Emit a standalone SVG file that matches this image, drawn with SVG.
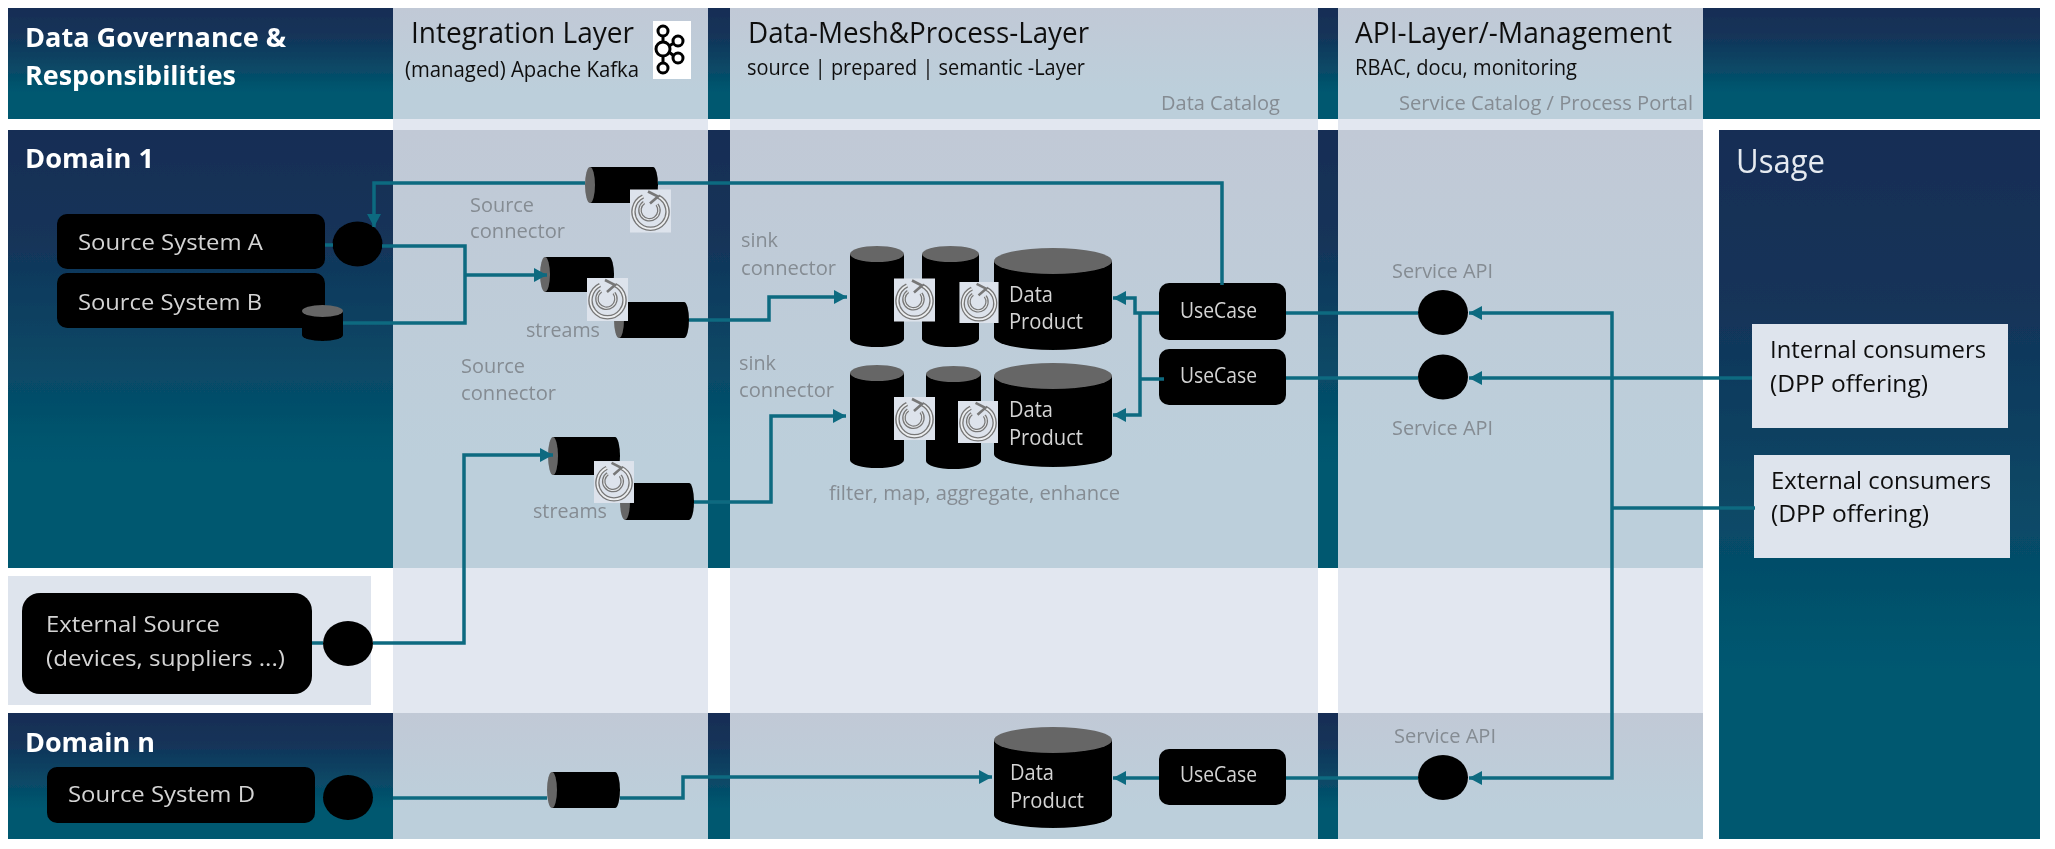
<svg xmlns="http://www.w3.org/2000/svg" width="2055" height="849" viewBox="0 0 2055 849">
<defs>
<linearGradient id="dark" x1="0" y1="0" x2="0" y2="1"><stop offset="0" stop-color="#122d55"/><stop offset="0.25" stop-color="#133459"/><stop offset="0.76" stop-color="#005870"/><stop offset="1" stop-color="#005870"/></linearGradient>
<linearGradient id="light" x1="0" y1="0" x2="0" y2="1"><stop offset="0" stop-color="#c1c9d6"/><stop offset="0.76" stop-color="#bccfdb"/><stop offset="1" stop-color="#bccfdb"/></linearGradient>
<filter id="soft" filterUnits="userSpaceOnUse" x="0" y="0" width="2055" height="849"><feGaussianBlur stdDeviation="0.6"/></filter>
<marker id="arrow" markerUnits="userSpaceOnUse" markerWidth="13" markerHeight="14" refX="13" refY="7" orient="auto"><path d="M0,0 L13,7 L0,14 Z" fill="#0c6a80"/></marker>
<symbol id="spin" viewBox="0 0 41 43">
<rect width="41" height="43" fill="#dde3ec"/>
<path d="M28,7 A17,17 0 1 1 13,7" fill="none" stroke="#777" stroke-width="4.5"/>
<path d="M28,7 A17,17 0 1 1 13,7" fill="none" stroke="#eceef0" stroke-width="1.8"/>
<path d="M27,15 A9.5,9.5 0 1 1 14,13" fill="none" stroke="#777" stroke-width="3.6"/>
<path d="M27,15 A9.5,9.5 0 1 1 14,13" fill="none" stroke="#e6e9ec" stroke-width="1.1"/>
<path d="M18,2 L28,7 L20,14" fill="none" stroke="#777" stroke-width="2.6"/>
</symbol>
<symbol id="kafka" viewBox="0 0 38 58">
<rect width="38" height="58" fill="#fff"/>
<g fill="none" stroke="#000" stroke-width="3">
<circle cx="10" cy="10" r="5"/><circle cx="10" cy="28" r="7"/><circle cx="10" cy="47" r="5"/><circle cx="25" cy="20" r="5"/><circle cx="25" cy="37" r="5"/>
<path d="M10,15 V21 M10,35 V42 M16,25 L21,22 M16,31 L21,35"/>
</g>
</symbol>
</defs>
<style>
text{font-family:"Open Sans","Noto Sans","Liberation Sans",sans-serif}
.dark{fill:url(#dark)}
.light{fill:url(#light)}
.band{fill:#e2e7f0}
.sys{fill:#000}
.cap{fill:#666}
.h1{font-size:27px;font-weight:700;fill:#fff}
.h2{font-size:30px;fill:#111}
.h3{font-size:22px;fill:#111}
.lbl{font-size:20px;fill:#858c93}
.sysT{font-size:21px;fill:#d4d4d4}
.cons{font-size:24px;fill:#111}
.conn{fill:none;stroke:#0c6a80;stroke-width:3.5}
.arr{marker-end:url(#arrow)}
</style>
<g filter="url(#soft)">
<g id="background">
<rect class="band" x="393" y="119" width="1310" height="11"/>
<rect class="band" x="393" y="568" width="1310" height="145"/>
<rect x="708" y="119" width="22" height="11" fill="#fff"/><rect x="1318" y="119" width="20" height="11" fill="#fff"/>
<rect x="708" y="568" width="22" height="145" fill="#fff"/><rect x="1318" y="568" width="20" height="145" fill="#fff"/>
<rect class="light" x="393" y="8" width="1310" height="111"/>
<rect class="light" x="393" y="130" width="1310" height="438"/>
<rect class="light" x="393" y="713" width="1310" height="126"/>
<rect class="dark" x="8" y="8" width="385" height="111"/>
<rect class="dark" x="8" y="130" width="385" height="438"/>
<rect class="dark" x="8" y="713" width="385" height="126"/>
<rect x="8" y="576" width="363" height="129" fill="#dee4ed"/>
<rect class="dark" x="708" y="8" width="22" height="111"/>
<rect class="dark" x="708" y="130" width="22" height="438"/>
<rect class="dark" x="708" y="713" width="22" height="126"/>
<rect class="dark" x="1318" y="8" width="20" height="111"/>
<rect class="dark" x="1318" y="130" width="20" height="438"/>
<rect class="dark" x="1318" y="713" width="20" height="126"/>
<rect class="dark" x="1703" y="8" width="337" height="111"/>
<rect class="dark" x="1719" y="130" width="321" height="709"/>
</g>
<g id="headers">
<text class="h1" x="25" y="47" textLength="261" lengthAdjust="spacingAndGlyphs">Data Governance &amp;</text>
<text class="h1" x="25" y="85" textLength="211" lengthAdjust="spacingAndGlyphs">Responsibilities</text>
<text class="h2" x="411" y="43" textLength="223" lengthAdjust="spacingAndGlyphs">Integration Layer</text>
<text class="h3" x="405" y="77" textLength="234" lengthAdjust="spacingAndGlyphs">(managed) Apache Kafka</text>
<use href="#kafka" x="653" y="21" width="38" height="58"/>
<text class="h2" x="748" y="43" textLength="341" lengthAdjust="spacingAndGlyphs">Data-Mesh&amp;Process-Layer</text>
<text class="h3" x="747" y="75" textLength="338" lengthAdjust="spacingAndGlyphs">source | prepared | semantic -Layer</text>
<text class="lbl" x="1161" y="110" textLength="119" lengthAdjust="spacingAndGlyphs">Data Catalog</text>
<text class="h2" x="1355" y="43" textLength="317" lengthAdjust="spacingAndGlyphs">API-Layer/-Management</text>
<text class="h3" x="1355" y="75" textLength="222" lengthAdjust="spacingAndGlyphs">RBAC, docu, monitoring</text>
<text class="lbl" x="1399" y="110" textLength="294" lengthAdjust="spacingAndGlyphs">Service Catalog / Process Portal</text>
<text class="h1" x="25" y="168" textLength="129" lengthAdjust="spacingAndGlyphs">Domain 1</text>
<text class="h1" x="25" y="752" textLength="130" lengthAdjust="spacingAndGlyphs">Domain n</text>
<text x="1736" y="173" font-size="32" fill="#e6eaf0" textLength="89" lengthAdjust="spacingAndGlyphs">Usage</text>
</g>
<g id="labels">
<text class="lbl" x="470" y="212" textLength="64" lengthAdjust="spacingAndGlyphs">Source</text>
<text class="lbl" x="470" y="238" textLength="95" lengthAdjust="spacingAndGlyphs">connector</text>
<text class="lbl" x="526" y="337" textLength="74" lengthAdjust="spacingAndGlyphs">streams</text>
<text class="lbl" x="461" y="373" textLength="64" lengthAdjust="spacingAndGlyphs">Source</text>
<text class="lbl" x="461" y="400" textLength="95" lengthAdjust="spacingAndGlyphs">connector</text>
<text class="lbl" x="533" y="518" textLength="74" lengthAdjust="spacingAndGlyphs">streams</text>
<text class="lbl" x="741" y="247" textLength="37" lengthAdjust="spacingAndGlyphs">sink</text>
<text class="lbl" x="741" y="275" textLength="95" lengthAdjust="spacingAndGlyphs">connector</text>
<text class="lbl" x="739" y="370" textLength="37" lengthAdjust="spacingAndGlyphs">sink</text>
<text class="lbl" x="739" y="397" textLength="95" lengthAdjust="spacingAndGlyphs">connector</text>
<text class="lbl" x="829" y="500" textLength="291" lengthAdjust="spacingAndGlyphs">filter, map, aggregate, enhance</text>
<text class="lbl" x="1392" y="278" textLength="101" lengthAdjust="spacingAndGlyphs">Service API</text>
<text class="lbl" x="1392" y="435" textLength="101" lengthAdjust="spacingAndGlyphs">Service API</text>
<text class="lbl" x="1394" y="743" textLength="102" lengthAdjust="spacingAndGlyphs">Service API</text>
</g>
<g id="source-a"><rect class="sys" x="57" y="214" width="268" height="55" rx="10"/><text class="sysT" x="78" y="250" textLength="185" lengthAdjust="spacingAndGlyphs">Source System A</text></g>
<g id="source-b"><rect class="sys" x="57" y="273" width="268" height="55" rx="10"/><text class="sysT" x="78" y="310" textLength="184" lengthAdjust="spacingAndGlyphs">Source System B</text></g>
<g id="source-a-port"><ellipse class="sys" cx="357.5" cy="244" rx="25" ry="22.5"/></g>
<g id="source-b-db"><path class="sys" d="M302,311 V335 A20.5,6 0 0 0 343,335 V311 Z"/><ellipse class="cap" cx="322.5" cy="311" rx="20.5" ry="6"/></g>
<g id="external-source"><rect class="sys" x="22" y="593" width="290" height="101" rx="18"/><text class="sysT" x="46" y="632" textLength="174" lengthAdjust="spacingAndGlyphs">External Source</text><text class="sysT" x="46" y="666" textLength="239" lengthAdjust="spacingAndGlyphs">(devices, suppliers ...)</text></g>
<g id="external-port"><ellipse class="sys" cx="348" cy="643.5" rx="25" ry="22.5"/></g>
<g id="source-d"><rect class="sys" x="47" y="767" width="268" height="56" rx="10"/><text class="sysT" x="68" y="802" textLength="187" lengthAdjust="spacingAndGlyphs">Source System D</text></g>
<g id="source-d-port"><ellipse class="sys" cx="348" cy="797.5" rx="25" ry="22.5"/></g>
<g id="topic-top"><path class="sys" d="M590,167 H653 A5,18 0 0 1 653,203 H590 Z"/><ellipse class="cap" cx="590" cy="185" rx="5" ry="18"/><use href="#spin" x="630" y="189" width="41" height="44"/></g>
<g id="topic-stream-1"><path class="sys" d="M545,257 H609 A5,17.5 0 0 1 609,292 H545 Z"/><ellipse class="cap" cx="545" cy="274.5" rx="5" ry="17.5"/><path class="sys" d="M619,302 H684 A5,18 0 0 1 684,338 H619 Z"/><ellipse class="cap" cx="619" cy="320" rx="5" ry="18"/><use href="#spin" x="587" y="278" width="41" height="43"/></g>
<g id="topic-stream-2"><path class="sys" d="M553,437 H615 A5,19 0 0 1 615,475 H553 Z"/><ellipse class="cap" cx="553" cy="456" rx="5" ry="19"/><path class="sys" d="M625,483 H689 A5,18.5 0 0 1 689,520 H625 Z"/><ellipse class="cap" cx="625" cy="501.5" rx="5" ry="18.5"/><use href="#spin" x="594" y="461" width="40" height="42"/></g>
<g id="topic-n"><path class="sys" d="M552,772 H615 A5,18 0 0 1 615,808 H552 Z"/><ellipse class="cap" cx="552" cy="790" rx="5" ry="18"/></g>
<g id="pipeline-1">
<path class="sys" d="M850,254 V339 A27,8 0 0 0 904,339 V254 Z"/><ellipse class="cap" cx="877" cy="254" rx="27" ry="8"/>
<path class="sys" d="M922,254 V339 A28.5,8 0 0 0 979,339 V254 Z"/><ellipse class="cap" cx="950.5" cy="254" rx="28.5" ry="8"/>
<path class="sys" d="M994,261 V337 A59,13 0 0 0 1112,337 V261 Z"/><ellipse class="cap" cx="1053" cy="261" rx="59" ry="13"/>
<use href="#spin" x="894" y="278" width="41" height="44"/><use href="#spin" x="959" y="282" width="40" height="41"/>
<text class="sysT" x="1009" y="302" textLength="44" lengthAdjust="spacingAndGlyphs">Data</text><text class="sysT" x="1009" y="329" textLength="74" lengthAdjust="spacingAndGlyphs">Product</text>
</g>
<g id="pipeline-2">
<path class="sys" d="M850,373 V460 A27,8 0 0 0 904,460 V373 Z"/><ellipse class="cap" cx="877" cy="373" rx="27" ry="8"/>
<path class="sys" d="M926,374 V461 A27.5,8 0 0 0 981,461 V374 Z"/><ellipse class="cap" cx="953.5" cy="374" rx="27.5" ry="8"/>
<path class="sys" d="M994,376 V454 A59,13 0 0 0 1112,454 V376 Z"/><ellipse class="cap" cx="1053" cy="376" rx="59" ry="13"/>
<use href="#spin" x="894" y="397" width="41" height="43"/><use href="#spin" x="957" y="401" width="42" height="42"/>
<text class="sysT" x="1009" y="417" textLength="44" lengthAdjust="spacingAndGlyphs">Data</text><text class="sysT" x="1009" y="445" textLength="74" lengthAdjust="spacingAndGlyphs">Product</text>
</g>
<g id="data-product-n">
<path class="sys" d="M994,740 V815 A59,13 0 0 0 1112,815 V740 Z"/><ellipse class="cap" cx="1053" cy="740" rx="59" ry="13"/>
<text class="sysT" x="1010" y="780" textLength="44" lengthAdjust="spacingAndGlyphs">Data</text><text class="sysT" x="1010" y="808" textLength="74" lengthAdjust="spacingAndGlyphs">Product</text>
</g>
<g id="usecase-1"><rect class="sys" x="1159" y="283" width="127" height="57" rx="10"/><text class="sysT" x="1180" y="318" textLength="77" lengthAdjust="spacingAndGlyphs">UseCase</text></g>
<g id="usecase-2"><rect class="sys" x="1159" y="349" width="127" height="56" rx="10"/><text class="sysT" x="1180" y="383" textLength="77" lengthAdjust="spacingAndGlyphs">UseCase</text></g>
<g id="usecase-n"><rect class="sys" x="1159" y="749" width="127" height="56" rx="10"/><text class="sysT" x="1180" y="782" textLength="77" lengthAdjust="spacingAndGlyphs">UseCase</text></g>
<g id="api-1"><ellipse class="sys" cx="1443" cy="312.5" rx="25" ry="22.5"/></g>
<g id="api-2"><ellipse class="sys" cx="1443" cy="377" rx="25" ry="22.5"/></g>
<g id="api-n"><ellipse class="sys" cx="1443" cy="777.5" rx="25" ry="22.5"/></g>
<g id="internal-consumers"><rect x="1752" y="324" width="256" height="104" fill="#dee4ed"/><text class="cons" x="1770" y="358" textLength="216" lengthAdjust="spacingAndGlyphs">Internal consumers</text><text class="cons" x="1770" y="392" textLength="158" lengthAdjust="spacingAndGlyphs">(DPP offering)</text></g>
<g id="external-consumers"><rect x="1754" y="455" width="256" height="103" fill="#dee4ed"/><text class="cons" x="1771" y="489" textLength="220" lengthAdjust="spacingAndGlyphs">External consumers</text><text class="cons" x="1771" y="522" textLength="158" lengthAdjust="spacingAndGlyphs">(DPP offering)</text></g>
<g id="connectors">
<path class="conn" d="M1222,285 V183 H658"/>
<path class="conn arr" d="M585,183 H374 V227"/>
<path class="conn" d="M333,245 H325"/>
<path class="conn" d="M382,246 H465 V323 H343"/>
<path class="conn arr" d="M465,275 H547"/>
<path class="conn arr" d="M689,320 H769 V297 H847"/>
<path class="conn" d="M312,643 H323"/>
<path class="conn arr" d="M373,643 H464 V455 H553"/>
<path class="conn arr" d="M694,502 H771 V416 H846"/>
<path class="conn" d="M393,798 H547"/>
<path class="conn arr" d="M620,798 H683 V777 H992"/>
<path class="conn arr" d="M1159,778 H1113"/>
<path class="conn" d="M1286,778 H1418"/>
<path class="conn" d="M1286,313 H1418"/>
<path class="conn" d="M1286,378 H1418"/>
<path class="conn arr" d="M1159,313 H1135 V298 H1113"/>
<path class="conn arr" d="M1140,313 V415 H1113"/>
<path class="conn" d="M1164,379 H1140"/>
<path class="conn arr" d="M1612,508 V313 H1469"/>
<path class="conn arr" d="M1612,508 V778 H1469"/>
<path class="conn arr" d="M1752,378 H1469"/>
<path class="conn" d="M1755,508 H1612"/>
</g>
</g>
</svg>
